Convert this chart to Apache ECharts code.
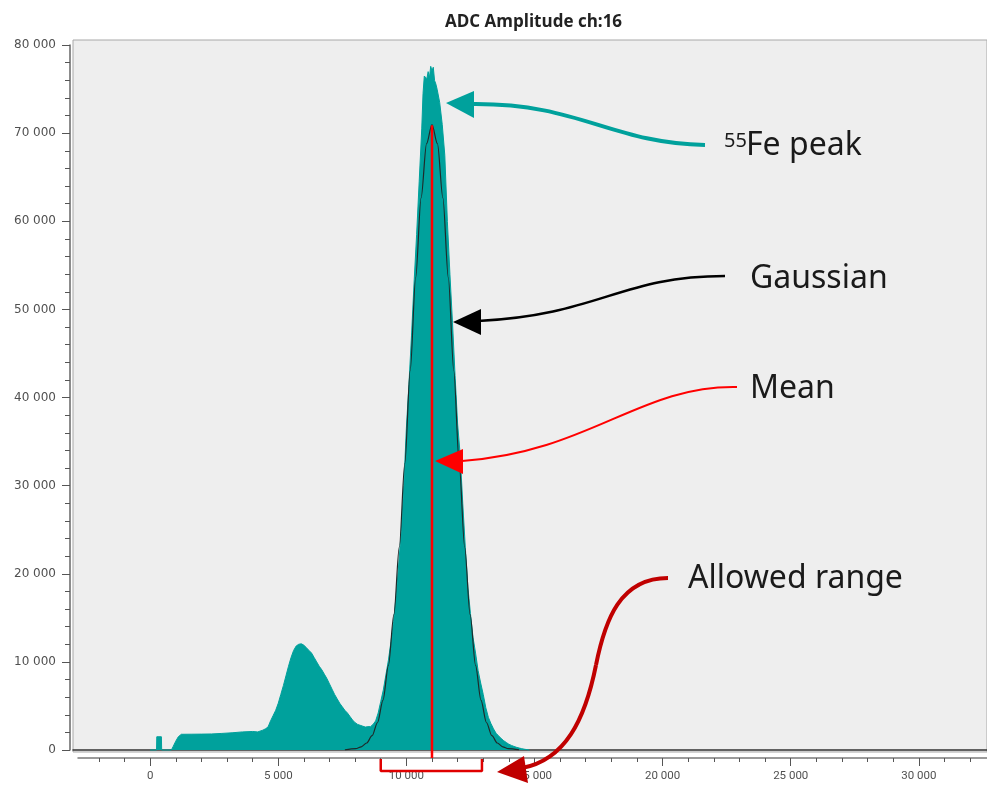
<!DOCTYPE html>
<html>
<head>
<meta charset="utf-8">
<script src="https://cdn.jsdelivr.net/npm/echarts@6/dist/echarts.min.js"></script>
<style>
  html, body { margin: 0; padding: 0; background: #ffffff; }
  #main { width: 987px; height: 786px; }
</style>
</head>
<body>
<div id="main"></div>
<script>
// histogram of ADC amplitude (channel -> counts)
var histX = [0, 250, 260, 440, 450, 830, 900, 1000, 1100, 1220, 1600, 2000, 2400, 2800, 3200, 3600, 4000, 4200, 4400, 4500,
  4600, 4700, 4800, 4900, 5000, 5100, 5200, 5300, 5400, 5500, 5600, 5700, 5800, 5900, 6000, 6100, 6200, 6300, 6400, 6500,
  6600, 6700, 6800, 6900, 7000, 7100, 7200, 7300, 7400, 7500, 7600, 7700, 7800, 7900, 8000, 8100, 8200, 8300, 8400, 8500,
  8600, 8700, 8800, 8900, 9000, 9100, 9200, 9300, 9400, 9500, 9600, 9700, 9800, 9900, 10000, 10100, 10200, 10300, 10400, 10500,
  10600, 10650, 10700, 10800, 10850, 10900, 10950, 11000, 11050, 11100, 11150, 11200, 11300, 11400, 11500, 11600, 11700, 11800, 11900, 12000,
  12100, 12200, 12300, 12400, 12500, 12600, 12700, 12800, 12900, 13000, 13100, 13200, 13300, 13400, 13500, 13600, 13700, 13800, 13900, 14000,
  14100, 14200, 14300, 14400, 14500, 14600, 14700, 14800];
var histCounts = [0, 0, 1500, 1500, 0, 0, 400, 1000, 1500, 1780, 1790, 1800, 1820, 1880, 1950, 2050, 2100, 2050, 2250, 2400,
  2600, 3300, 3900, 4500, 5300, 6300, 7300, 8400, 9500, 10500, 11300, 11800, 12000, 12050, 11900, 11600, 11300, 11000, 10500, 10000,
  9500, 9100, 8600, 8100, 7500, 6900, 6300, 5800, 5300, 4900, 4500, 4200, 3800, 3400, 3100, 2900, 2800, 2700, 2600, 2650,
  2650, 2900, 3300, 4200, 5500, 6800, 8500, 10200, 12300, 14600, 17500, 21000, 24800, 30000, 36500, 41500, 47000, 53000, 58500, 64500,
  70500, 74500, 76500, 76200, 77000, 76300, 77600, 77100, 77500, 76000, 75600, 75000, 73500, 71000, 67500, 60000, 54000, 48500, 42500, 37000,
  33500, 28000, 23000, 18500, 15500, 12800, 11000, 9000, 7600, 6300, 4800, 3700, 3000, 2400, 1900, 1600, 1300, 1050, 850, 650,
  520, 400, 300, 220, 150, 90, 40, 0];

// fitted gaussian
var gaussX = [7600, 8025, 8238, 8450, 8662, 8875, 9088, 9300, 9512, 9725, 9938, 10150, 10362, 10575, 10788, 11000,
  11212, 11425, 11638, 11850, 12062, 12275, 12488, 12700, 12912, 13125, 13338, 13550, 13762, 13975, 14400];
var gaussY = [24, 156, 361, 790, 1620, 3120, 5650, 9610, 15360, 23050, 32500, 43060, 53590, 62660, 68820, 71000,
  68820, 62660, 53590, 43060, 32500, 23050, 15360, 9610, 5650, 3120, 1620, 790, 361, 156, 24];

// mean of the fit and the allowed range shown under the axis
var meanX = [11000, 11000];
var meanY = [-900, 70900];
var rangeX = [9000, 9000, 12950, 12950];
var rangeY = [-1020, -2380, -2380, -1020];

var xMajorTicks = [0, 5000, 10000, 15000, 20000, 25000, 30000];
var xMinorTicks = [-2000, -1000, 1000, 2000, 3000, 4000, 6000, 7000, 8000, 9000, 11000, 12000, 13000, 14000,
  16000, 17000, 18000, 19000, 21000, 22000, 23000, 24000, 26000, 27000, 28000, 29000, 31000, 32000];

function pairs(xs, ys) {
  var out = [];
  for (var i = 0; i < xs.length; i++) out.push([xs[i], ys[i]]);
  return out;
}
function spaced(v) {
  return String(v).replace(/\B(?=(\d{3})+(?!\d))/g, ' ');
}

var myChart = echarts.init(document.getElementById('main'));
var textFont = 'Noto Sans';

var option = {
  animation: false,
  backgroundColor: '#ffffff',
  title: {
    text: 'ADC Amplitude ch:16',
    left: 445,
    top: 14,
    padding: 0,
    textStyle: { fontFamily: 'Open Sans', fontWeight: 'bold', fontSize: 17, color: '#222' }
  },
  grid: [
    // plot frame with data
    { left: 73, right: -2, top: 40, bottom: 34, show: true, backgroundColor: '#eeeeee', borderColor: '#a8a8a8', borderWidth: 1 },
    // y axis scale
    { left: 70, right: -2, top: 45, bottom: 36 },
    // x axis scale, drawn under the frame
    { left: 78, right: -2, top: 700, bottom: 28 }
  ],
  xAxis: [
    {
      gridIndex: 0, type: 'value', min: -3010, max: 32660,
      axisLine: { show: true, onZero: true, lineStyle: { color: '#333', width: 1.5 } },
      axisTick: { show: false }, axisLabel: { show: false }, splitLine: { show: false }
    },
    { gridIndex: 1, type: 'value', show: false, min: 0, max: 1 },
    {
      gridIndex: 2, type: 'value', position: 'bottom', min: -2815, max: 32660,
      axisLine: { show: true, lineStyle: { color: '#7a7a7a', width: 1.5 } },
      axisTick: { show: true, customValues: xMajorTicks, length: 8, lineStyle: { color: '#555' } },
      axisLabel: {
        customValues: xMajorTicks, margin: 12, color: '#505050', fontSize: 11.5,
        fontFamily: 'Roboto', formatter: spaced
      },
      splitLine: { show: false }
    },
    {
      gridIndex: 2, type: 'value', position: 'bottom', min: -2815, max: 32660,
      axisLine: { show: false },
      axisTick: { show: true, customValues: xMinorTicks, length: 4, lineStyle: { color: '#555' } },
      axisLabel: { show: false },
      splitLine: { show: false }
    }
  ],
  yAxis: [
    { gridIndex: 0, type: 'value', min: -230, max: 80590, show: false },
    {
      gridIndex: 1, type: 'value', min: 0, max: 80000, interval: 10000,
      axisLine: { show: true, lineStyle: { color: '#666', width: 1.5 } },
      axisTick: { show: true, length: 8, lineStyle: { color: '#555' } },
      minorTick: { show: true, splitNumber: 5, length: 5, lineStyle: { color: '#555' } },
      axisLabel: { margin: 14, color: '#505050', fontSize: 12, fontFamily: 'DejaVu Sans', formatter: spaced },
      splitLine: { show: false }
    },
    { gridIndex: 2, type: 'value', show: false }
  ],
  series: [
    {
      name: 'ADC', type: 'line', xAxisIndex: 0, yAxisIndex: 0,
      showSymbol: false, symbol: 'none',
      data: pairs(histX, histCounts),
      lineStyle: { color: '#00a19c', width: 1 },
      areaStyle: { color: '#00a19c', opacity: 1 }
    },
    {
      name: 'Gaussian', type: 'line', xAxisIndex: 0, yAxisIndex: 0,
      smooth: 0.3, smoothMonotone: 'x', showSymbol: false, symbol: 'none',
      data: pairs(gaussX, gaussY),
      lineStyle: { color: '#1e2a2a', width: 1.2 }, z: 3
    },
    {
      name: 'Mean', type: 'line', xAxisIndex: 0, yAxisIndex: 0,
      showSymbol: false, symbol: 'none', clip: false,
      data: pairs(meanX, meanY),
      lineStyle: { color: '#ff0000', width: 2.5 }, z: 4
    },
    {
      name: 'Range', type: 'line', xAxisIndex: 0, yAxisIndex: 0,
      showSymbol: false, symbol: 'none', clip: false,
      data: pairs(rangeX, rangeY),
      lineStyle: { color: '#e00000', width: 2.5 }, z: 4
    }
  ],
  graphic: [
    // 55Fe peak
    { type: 'bezierCurve', z: 100, shape: { x1: 705, y1: 145, cpx1: 610, cpy1: 143, cpx2: 580, cpy2: 103, x2: 472, y2: 104 },
      style: { stroke: '#00a19c', lineWidth: 4, fill: null } },
    { type: 'polygon', z: 100, shape: { points: [[446, 103], [474, 91], [474, 118]] }, style: { fill: '#00a19c' } },
    { type: 'text', z: 100, style: { x: 724, y: 141, text: '55', fontFamily: textFont, fontSize: 20, fill: '#1a1a1a', verticalAlign: 'middle' } },
    { type: 'text', z: 100, style: { x: 746, y: 146, text: 'Fe peak', fontFamily: textFont, fontSize: 32, fill: '#1a1a1a', verticalAlign: 'middle' } },
    // Gaussian
    { type: 'bezierCurve', z: 100, shape: { x1: 725, y1: 276, cpx1: 620, cpy1: 276, cpx2: 600, cpy2: 315, x2: 478, y2: 321 },
      style: { stroke: '#000000', lineWidth: 2.5, fill: null } },
    { type: 'polygon', z: 100, shape: { points: [[453, 322], [481, 309], [481, 335]] }, style: { fill: '#000000' } },
    { type: 'text', z: 100, style: { x: 750, y: 279, text: 'Gaussian', fontFamily: textFont, fontSize: 32, fill: '#1a1a1a', verticalAlign: 'middle' } },
    // Mean
    { type: 'bezierCurve', z: 100, shape: { x1: 737, y1: 387, cpx1: 640, cpy1: 385, cpx2: 590, cpy2: 452, x2: 462, y2: 461 },
      style: { stroke: '#ff0000', lineWidth: 2, fill: null } },
    { type: 'polygon', z: 100, shape: { points: [[435, 461], [463, 449], [463, 474]] }, style: { fill: '#ff0000' } },
    { type: 'text', z: 100, style: { x: 750, y: 389, text: 'Mean', fontFamily: textFont, fontSize: 32, fill: '#1a1a1a', verticalAlign: 'middle' } },
    // Allowed range
    { type: 'bezierCurve', z: 100, shape: { x1: 668, y1: 578, cpx1: 620, cpy1: 578, cpx2: 605, cpy2: 620, x2: 596, y2: 665 },
      style: { stroke: '#c00000', lineWidth: 4, fill: null } },
    { type: 'bezierCurve', z: 100, shape: { x1: 596, y1: 665, cpx1: 585, cpy1: 720, cpx2: 565, cpy2: 760, x2: 522, y2: 768 },
      style: { stroke: '#c00000', lineWidth: 4, fill: null } },
    { type: 'polygon', z: 100, shape: { points: [[497, 772], [524, 756], [528, 783]] }, style: { fill: '#c00000' } },
    { type: 'text', z: 100, style: { x: 688, y: 579, text: 'Allowed range', fontFamily: textFont, fontSize: 32, fill: '#1a1a1a', verticalAlign: 'middle' } }
  ]
};

option && myChart.setOption(option);
</script>
</body>
</html>
